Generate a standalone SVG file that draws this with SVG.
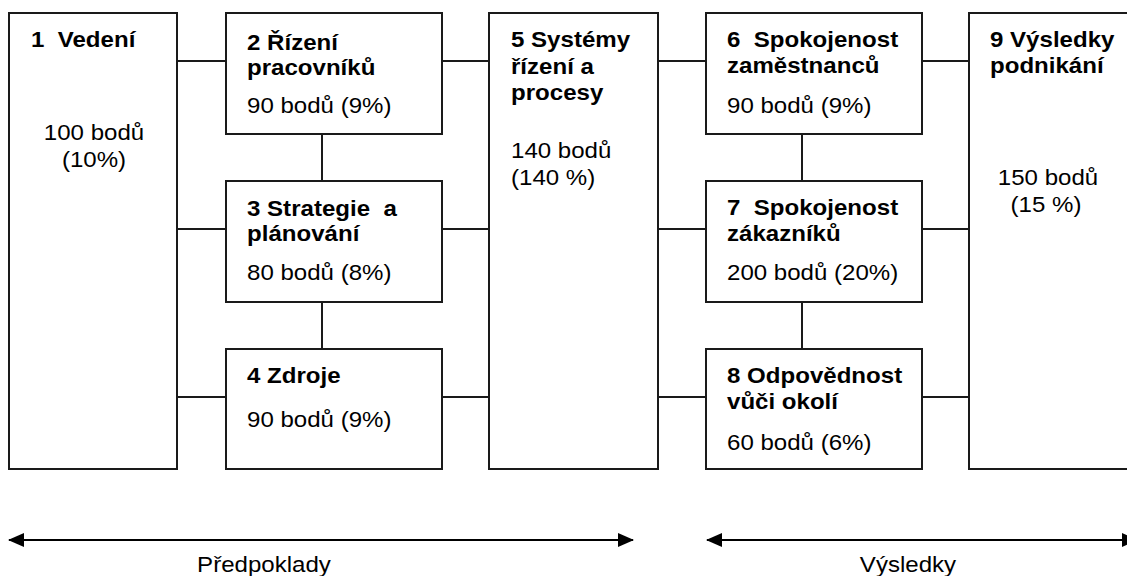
<svg xmlns="http://www.w3.org/2000/svg" width="1127" height="576" viewBox="0 0 1127 576">
<style>
.box{fill:#fff;stroke:#1a1a1a;stroke-width:2}
.c{stroke:#1a1a1a;stroke-width:2;fill:none}
.t{font-family:"Liberation Sans",Arial,sans-serif;font-size:21.5px;font-weight:bold;fill:#000;white-space:pre}
.p{font-family:"Liberation Sans",Arial,sans-serif;font-size:21.5px;fill:#000;white-space:pre}
.m{text-anchor:middle}
.ax{stroke:#000;stroke-width:2.2;fill:none}
</style>
<defs>
<marker id="ah" viewBox="0 0 16 14" refX="15" refY="7" markerWidth="16" markerHeight="14" markerUnits="userSpaceOnUse" orient="auto-start-reverse">
<path d="M0,0 L16,7 L0,14 Z" fill="#000"/>
</marker>
</defs>
<g id="connectors">
<line class="c" x1="177" y1="61" x2="226" y2="61"/>
<line class="c" x1="177" y1="229" x2="226" y2="229"/>
<line class="c" x1="177" y1="397" x2="226" y2="397"/>
<line class="c" x1="442" y1="61" x2="489" y2="61"/>
<line class="c" x1="442" y1="229" x2="489" y2="229"/>
<line class="c" x1="442" y1="397" x2="489" y2="397"/>
<line class="c" x1="658" y1="61" x2="706" y2="61"/>
<line class="c" x1="658" y1="229" x2="706" y2="229"/>
<line class="c" x1="658" y1="397" x2="706" y2="397"/>
<line class="c" x1="922" y1="61" x2="969" y2="61"/>
<line class="c" x1="922" y1="229" x2="969" y2="229"/>
<line class="c" x1="922" y1="397" x2="969" y2="397"/>
<line class="c" x1="322" y1="134" x2="322" y2="181"/>
<line class="c" x1="322" y1="302" x2="322" y2="349"/>
<line class="c" x1="802" y1="134" x2="802" y2="181"/>
<line class="c" x1="802" y1="302" x2="802" y2="349"/>
</g>
<g id="n1">
<rect class="box" x="9" y="13" width="168" height="456"/>
<text class="t" transform="translate(31 47) scale(1.12 1)">1  Vedení</text>
<text class="p m" transform="translate(94 140) scale(1.12 1)">100 bodů</text>
<text class="p m" transform="translate(94 167) scale(1.12 1)">(10%)</text>
</g>
<g id="n2">
<rect class="box" x="226" y="13" width="216" height="121"/>
<text class="t" transform="translate(247 50) scale(1.12 1)">2 Řízení</text>
<text class="t" transform="translate(247 75) scale(1.12 1)">pracovníků</text>
<text class="p" transform="translate(247 113) scale(1.12 1)">90 bodů (9%)</text>
</g>
<g id="n3">
<rect class="box" x="226" y="181" width="216" height="121"/>
<text class="t" transform="translate(247 216) scale(1.12 1)">3 Strategie  a</text>
<text class="t" transform="translate(247 241) scale(1.12 1)">plánování</text>
<text class="p" transform="translate(247 280) scale(1.12 1)">80 bodů (8%)</text>
</g>
<g id="n4">
<rect class="box" x="226" y="349" width="216" height="120"/>
<text class="t" transform="translate(247 383) scale(1.12 1)">4 Zdroje</text>
<text class="p" transform="translate(247 427) scale(1.12 1)">90 bodů (9%)</text>
</g>
<g id="n5">
<rect class="box" x="489" y="13" width="169" height="456"/>
<text class="t" transform="translate(511 47) scale(1.12 1)">5 Systémy</text>
<text class="t" transform="translate(511 74) scale(1.12 1)">řízení a</text>
<text class="t" transform="translate(511 100) scale(1.12 1)">procesy</text>
<text class="p" transform="translate(511 158) scale(1.12 1)">140 bodů</text>
<text class="p" transform="translate(511 185) scale(1.12 1)">(140 %)</text>
</g>
<g id="n6">
<rect class="box" x="706" y="13" width="216" height="121"/>
<text class="t" transform="translate(727 47) scale(1.12 1)">6  Spokojenost</text>
<text class="t" transform="translate(727 73) scale(1.12 1)">zaměstnanců</text>
<text class="p" transform="translate(727 113) scale(1.12 1)">90 bodů (9%)</text>
</g>
<g id="n7">
<rect class="box" x="706" y="181" width="216" height="121"/>
<text class="t" transform="translate(727 215) scale(1.12 1)">7  Spokojenost</text>
<text class="t" transform="translate(727 241) scale(1.12 1)">zákazníků</text>
<text class="p" transform="translate(727 280) scale(1.12 1)">200 bodů (20%)</text>
</g>
<g id="n8">
<rect class="box" x="706" y="349" width="216" height="120"/>
<text class="t" transform="translate(727 383) scale(1.12 1)">8 Odpovědnost</text>
<text class="t" transform="translate(727 409) scale(1.12 1)">vůči okolí</text>
<text class="p" transform="translate(727 450) scale(1.12 1)">60 bodů (6%)</text>
</g>
<g id="n9">
<rect class="box" x="969" y="13" width="170" height="456"/>
<text class="t" transform="translate(990 47) scale(1.12 1)">9 Výsledky</text>
<text class="t" transform="translate(990 73) scale(1.12 1)">podnikání</text>
<text class="p m" transform="translate(1048 185) scale(1.12 1)">150 bodů</text>
<text class="p m" transform="translate(1046 212) scale(1.12 1)">(15 %)</text>
</g>
<g id="axes">
<line class="ax" x1="9" y1="540" x2="633" y2="540" marker-start="url(#ah)" marker-end="url(#ah)"/>
<text class="p m" transform="translate(264 572) scale(1.12 1)">Předpoklady</text>
<line class="ax" x1="707" y1="540" x2="1137" y2="540" marker-start="url(#ah)" marker-end="url(#ah)"/>
<text class="p m" transform="translate(908 572) scale(1.12 1)">Výsledky</text>
</g>
</svg>
